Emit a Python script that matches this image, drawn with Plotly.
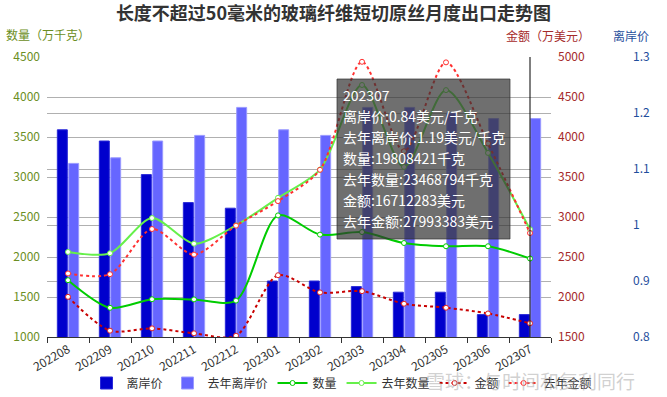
import plotly.graph_objects as go

months = ['202208', '202209', '202210', '202211', '202212', '202301',
          '202302', '202303', '202304', '202305', '202306', '202307']
# 离岸价 (美元/千克)
price = [1.17, 1.15, 1.09, 1.04, 1.03, 0.90, 0.90, 0.89, 0.88, 0.88, 0.84, 0.84]
price_ly = [1.11, 1.12, 1.15, 1.16, 1.21, 1.17, 1.16, 1.21, 1.21, 1.20, 1.19, 1.19]
# 数量 (万千克)
qty = [1710, 1365, 1472, 1470, 1455, 2520, 2280, 2312, 2175, 2134, 2134, 1980.8421]
qty_ly = [2063, 2047, 2487, 2167, 2395, 2740, 3093, 4150, 3126, 4086, 3301, 2346.8794]
# 金额 (万美元)
amt = [2002, 1579, 1608, 1546, 1516, 2272, 2057, 2073, 1916, 1866, 1794, 1671.2283]
amt_ly = [2294, 2285, 2850, 2530, 2892, 3199, 3590, 4940, 3822, 4933, 3919, 2799.3383]

FONT = "Microsoft YaHei, Noto Sans CJK SC, sans-serif"
W, H = 667, 397
L, R, T, B = 47, 10, 57, 60
PW = W - L - R
PH = H - T - B


def px(x):
    return (x - L) / PW


def py(y):
    return (H - B - y) / PH


fig = go.Figure()

fig.add_trace(go.Bar(x=months, y=price, name='离岸价', yaxis='y',
                     marker=dict(color='#0000CD', line=dict(color='#2a2ad8', width=1))))
fig.add_trace(go.Bar(x=months, y=price_ly, name='去年离岸价', yaxis='y',
                     marker=dict(color='#6666FF', line=dict(color='#9a9aff', width=1))))

MS = 5
fig.add_trace(go.Scatter(x=months, y=qty, name='数量', yaxis='y2', mode='lines+markers',
                         line=dict(color='#00CC00', width=2, shape='spline', smoothing=0.8),
                         marker=dict(symbol='circle', size=MS, color='white',
                                     line=dict(color='#00CC00', width=1))))
fig.add_trace(go.Scatter(x=months, y=qty_ly, name='去年数量', yaxis='y2', mode='lines+markers',
                         line=dict(color='#66F04A', width=2, shape='spline', smoothing=0.8),
                         marker=dict(symbol='circle', size=MS, color='white',
                                     line=dict(color='#66F04A', width=1))))
fig.add_trace(go.Scatter(x=months, y=amt, name='金额', yaxis='y3', mode='lines+markers',
                         line=dict(color='#C80000', width=2, dash='dot', shape='spline', smoothing=0.8),
                         marker=dict(symbol='circle', size=MS, color='white',
                                     line=dict(color='#E02020', width=1))))
fig.add_trace(go.Scatter(x=months, y=amt_ly, name='去年金额', yaxis='y3', mode='lines+markers',
                         line=dict(color='#FF3030', width=2, dash='dot', shape='spline', smoothing=0.8),
                         marker=dict(symbol='circle', size=MS, color='white',
                                     line=dict(color='#FF3030', width=1))))

grid = '#b0b0b0'
fig.update_layout(
    width=W, height=H,
    margin=dict(l=L, r=R, t=T, b=B, autoexpand=False),
    paper_bgcolor='white', plot_bgcolor='white',
    font=dict(family=FONT, size=12, color='#333'),
    barmode='group', bargap=0.46, bargroupgap=0.12,
    showlegend=True,
    legend=dict(orientation='h', x=px(342), xanchor='center',
                yref='container', y=1 - 383 / H, yanchor='middle',
                font=dict(size=12, color='#333'), bgcolor='rgba(0,0,0,0)',
                tracegroupgap=0, itemwidth=30),
    title=dict(text='<b>长度不超过50毫米的玻璃纤维短切原丝月度出口走势图</b>',
               x=0.5, xanchor='center', y=1 - 14 / H, yanchor='middle',
               font=dict(size=18, color='#333', family=FONT)),
    xaxis=dict(domain=[0, px(551)], type='category', tickson='boundaries',
               range=[-0.5, len(months) - 0.5], automargin=False,
               ticks='outside', ticklen=5, tickcolor='#333', showline=True,
               linecolor='#333', linewidth=1, tickangle=-30,
               tickfont=dict(size=12, color='#333'), showgrid=False),
    yaxis=dict(range=[0.8, 1.3], dtick=0.1, side='right', anchor='free', automargin=False,
               position=px(632), showgrid=True, gridcolor=grid, zeroline=False,
               tickfont=dict(color='#1F4E9C', size=12), showline=False,
               ticklabelstandoff=0),
    yaxis2=dict(range=[1000, 4500], dtick=500, overlaying='y', side='left', anchor='x',
                automargin=False,
                showgrid=True, gridcolor=grid, zeroline=False,
                tickfont=dict(color='#6B8E23', size=12), ticklabelstandoff=6),
    yaxis3=dict(range=[1500, 5000], dtick=500, overlaying='y', side='right', anchor='x',
                automargin=False,
                showgrid=True, gridcolor=grid, zeroline=False,
                tickfont=dict(color='#A52A2A', size=12), ticklabelstandoff=6),
)

# axis pointer line at the last month (category index)
last = len(months) - 1
fig.add_shape(type='line', xref='x', yref='paper', x0=last, x1=last,
              y0=0, y1=1, line=dict(color='black', width=1), layer='above')

# axis titles
fig.add_annotation(text='数量（万千克）', xref='paper', yref='paper', x=px(4), y=py(34),
                   xanchor='left', yanchor='middle', showarrow=False,
                   font=dict(size=12, color='#6B8E23'))
fig.add_annotation(text='金额（万美元）', xref='paper', yref='paper', x=px(548), y=py(35),
                   xanchor='center', yanchor='middle', showarrow=False,
                   font=dict(size=12, color='#A52A2A'))
fig.add_annotation(text='离岸价', xref='paper', yref='paper', x=px(631), y=py(35),
                   xanchor='center', yanchor='middle', showarrow=False,
                   font=dict(size=12, color='#1F4E9C'))

# watermark
fig.add_annotation(text='雪球：与时间和复利同行', xref='paper', yref='paper', x=px(530), y=py(380),
                   xanchor='center', yanchor='middle', showarrow=False,
                   font=dict(size=19, color='rgba(170,170,170,0.55)'))

# tooltip box
fig.add_shape(type='rect', xref='paper', yref='paper', x0=px(337), x1=px(510),
              y0=py(239), y1=py(79), fillcolor='rgba(50,50,50,0.7)',
              line=dict(color='rgba(50,50,50,0.7)', width=1), layer='above')
i = last
tip_lines = [
    months[i],
    f'离岸价:{price[i]:.2f}美元/千克',
    f'去年离岸价:{price_ly[i]:.2f}美元/千克',
    f'数量:{int(round(qty[i] * 10000))}千克',
    f'去年数量:{int(round(qty_ly[i] * 10000))}千克',
    f'金额:{int(round(amt[i] * 10000))}美元',
    f'去年金额:{int(round(amt_ly[i] * 10000))}美元',
]
for k, t in enumerate(tip_lines):
    fig.add_annotation(text=t, xref='paper', yref='paper', x=px(341), y=py(95 + 21 * k),
                       xanchor='left', yanchor='middle', showarrow=False,
                       font=dict(size=14, color='white'))

fig.write_html("out.html", config={'displayModeBar': False},
               post_script="document.body.style.margin='0';document.body.style.overflow='hidden';")
